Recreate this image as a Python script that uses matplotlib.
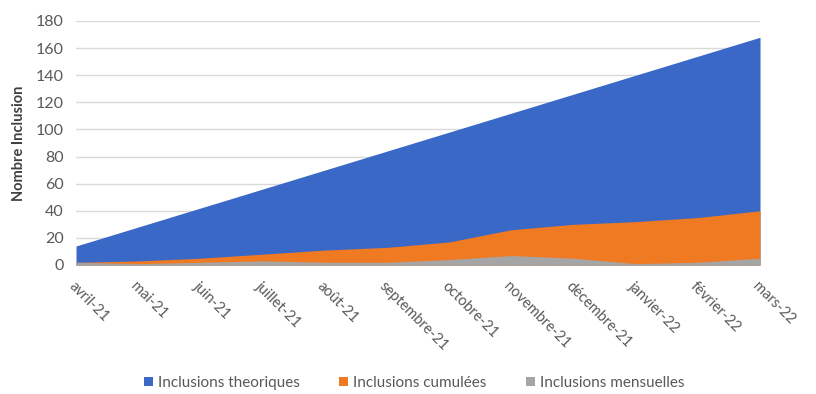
import matplotlib
matplotlib.use("Agg")
import matplotlib.pyplot as plt
from matplotlib.patches import Patch

plt.rcParams['font.family'] = ['Lato', 'DejaVu Sans']

months = ["avril-21", "mai-21", "juin-21", "juillet-21", "août-21", "septembre-21",
          "octobre-21", "novembre-21", "décembre-21", "janvier-22", "février-22", "mars-22"]
theoriques = [14, 28, 42, 56, 70, 84, 98, 112, 126, 140, 154, 168]
cumulees = [2, 3, 5, 8, 11, 13, 17, 26, 30, 32, 35, 40]
mensuelles = [2, 1, 2, 3, 2, 2, 4, 7, 5, 1, 2, 5]

series = [
    ("Inclusions theoriques", theoriques, "#3A68C6"),
    ("Inclusions cumulées", cumulees, "#F07A22"),
    ("Inclusions mensuelles", mensuelles, "#A5A5A5"),
]

fig = plt.figure(figsize=(8.16, 3.94), dpi=100)
ax = fig.add_axes([76 / 816, 1 - 265 / 394, (760 - 76) / 816, (265 - 21) / 394])

x = list(range(len(months)))
for z, (name, vals, col) in enumerate(series):
    ax.fill_between(x, 0, vals, color=col, linewidth=0, zorder=2 + z)

ax.set_xlim(0, len(months) - 1)
ax.set_ylim(0, 180)
ax.set_yticks(range(0, 181, 20))
ax.yaxis.grid(True, color="#D9D9D9", linewidth=1)
ax.set_axisbelow(True)
for s in ax.spines.values():
    s.set_visible(False)
ax.tick_params(axis="both", length=0, colors="#595959")
ax.tick_params(axis="y", pad=9, labelsize=11.5)

ax.set_xticks(x)
ax.set_xticklabels(months, rotation=-45, ha="left", va="top",
                   rotation_mode="anchor", fontsize=10.5, color="#595959")
ax.tick_params(axis="x", pad=10)

ax.set_ylabel("Nombre Inclusion", fontsize=10.5, fontweight="bold", color="#404040", labelpad=7)

handles = [Patch(facecolor=c, edgecolor="none", label=n) for n, _, c in series]
fig.legend(handles=handles, loc="center", bbox_to_anchor=(414 / 816, 1 - 383 / 394),
           ncol=3, frameon=False, fontsize=11, handlelength=0.6, handleheight=0.6,
           handletextpad=0.3, columnspacing=2.6, labelcolor="#595959")

fig.savefig("out.png", dpi=100)
